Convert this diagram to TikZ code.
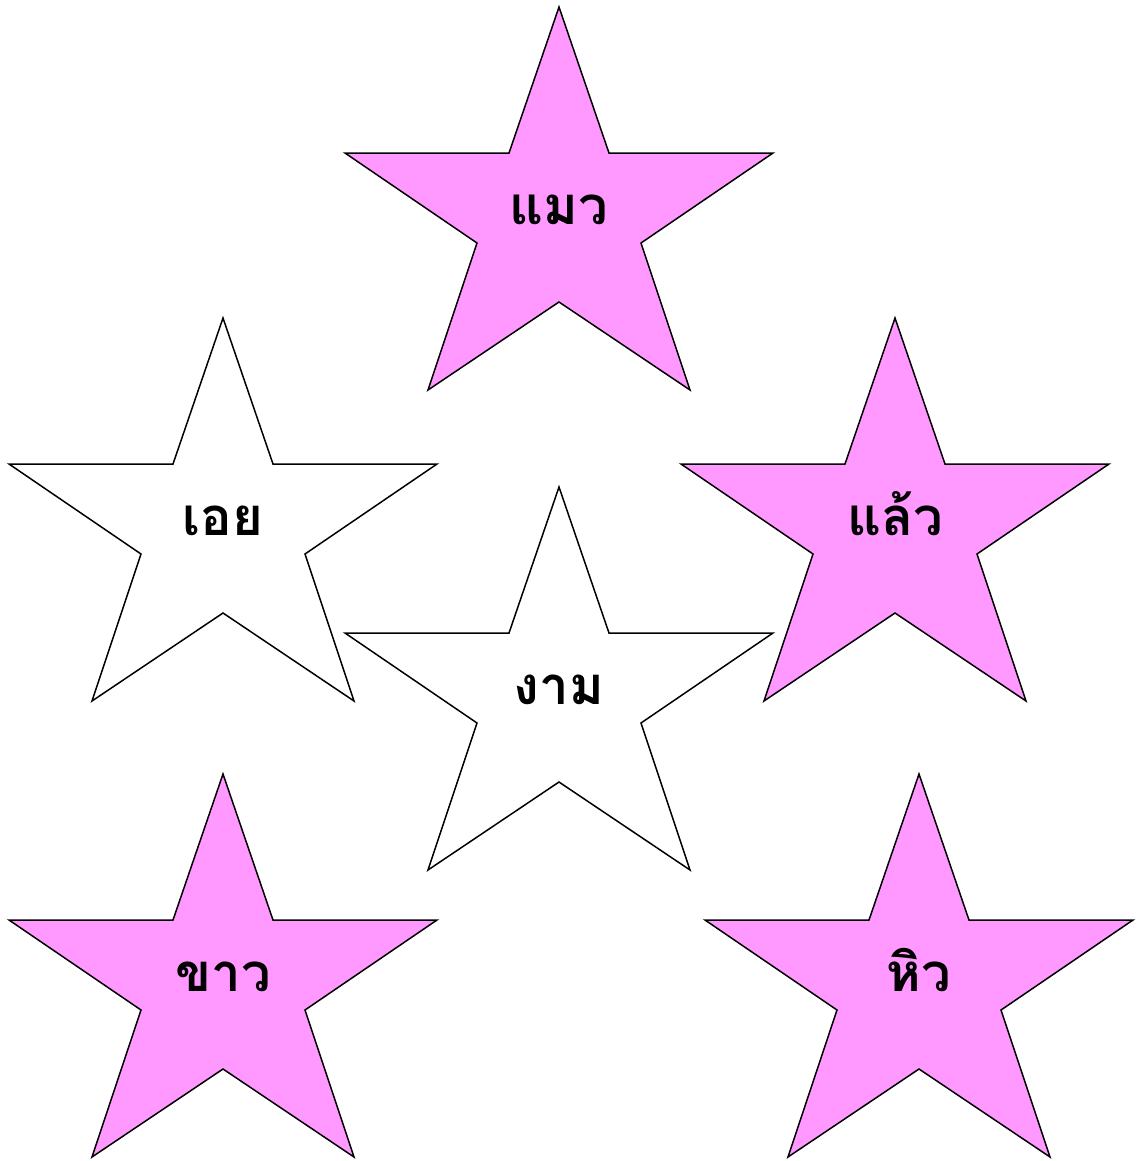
\documentclass[tikz,border=0pt]{standalone}
\usepackage{fontspec}
\newfontfamily\thaifont[Script=Thai]{Loma}
\usepackage{tikz}
\usetikzlibrary{positioning}
\definecolor{starpink}{HTML}{FF99FF}

\begin{document}
\begin{tikzpicture}[x=0.02cm, y=-0.02cm, line width=0.85pt,
	starlabel/.style={anchor=base, font=\thaifont\bfseries\fontsize{30}{36}\selectfont}]
		\useasboundingbox (0,0) rectangle (1141,1161);
		% stars: x of centre, y of top point, fill, name, word
		\foreach \cx/\ty/\col/\nm/\word in {559/7/starpink/maew/แมว, 223/318/white/oei/เอย,
			895/318/starpink/laeo/แล้ว, 559/487/white/ngam/งาม,
			223/774/starpink/khao/ขาว, 919/774/starpink/hio/หิว}{
			\begin{scope}[shift={(\cx,\ty)}]
				\draw[fill=\col, line join=miter] (0,0) -- (50,146) -- (214,146) -- (82,236)
					-- (131,383) -- (0,295) -- (-131,383) -- (-82,236)
					-- (-214,146) -- (-50,146) -- cycle;
				\node[starlabel] (\nm) at (0,217) {\word};
			\end{scope}
		}
	\end{tikzpicture}
\end{document}
